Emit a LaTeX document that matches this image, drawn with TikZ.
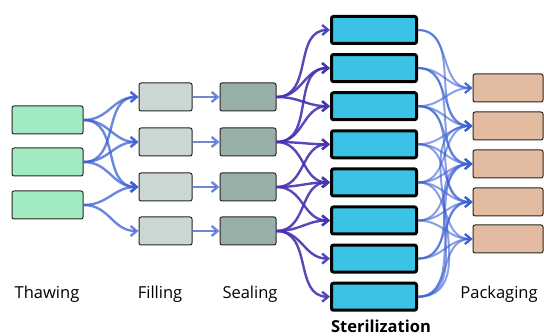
\documentclass[tikz,border=0pt]{standalone}
\usepackage{fontspec}
\setmainfont{Open Sans}
\usetikzlibrary{arrows.meta}

\definecolor{thawgreen}{HTML}{A2EBC2}
\definecolor{fillgray}{HTML}{CBD7D5}
\definecolor{sealgray}{HTML}{99AFA9}
\definecolor{sterilcyan}{HTML}{3AC3E6}
\definecolor{packtan}{HTML}{E3BBA0}
\definecolor{flowblue}{HTML}{3B60D2}
\definecolor{flowpurple}{HTML}{4633B0}

\begin{document}
\begin{tikzpicture}[%
    x=1pt, y=-1pt,
    >={Straight Barb[length=6pt,width=10pt]},
    box/.style={draw=black!85, line width=1pt, rounded corners=2pt,
      inner sep=0pt, minimum height=28pt},
    thaw/.style={box, fill=thawgreen, minimum width=71pt},
    filler/.style={box, fill=fillgray, minimum width=53pt},
    sealer/.style={box, fill=sealgray, minimum width=56pt},
    steril/.style={box, fill=sterilcyan, draw=black, line width=3pt,
      minimum width=85pt, minimum height=27pt},
    pack/.style={box, fill=packtan, minimum width=70pt},
    flow/.style={->, draw=flowblue, line width=2.4pt, opacity=.75,
      out=0, in=180, looseness=1.1},
    heavyflow/.style={flow, draw=flowpurple, opacity=.9},
    lightflow/.style={flow, line width=2pt, opacity=.6},
    lbl/.style={font=\fontsize{16.5}{19}\selectfont},
  ]
    \useasboundingbox (0,0) rectangle (544,336);

    % thawing
    \node[thaw] (t1) at (47.5,120) {};
    \node[thaw] (t2) at (47.5,162) {};
    \node[thaw] (t3) at (47.5,205) {};

    % filling and sealing
    \node[filler] (f1) at (165.5,97)  {};
    \node[filler] (f2) at (165.5,142) {};
    \node[filler] (f3) at (165.5,187) {};
    \node[filler] (f4) at (165.5,231) {};
    \node[sealer] (s1) at (248,97)  {};
    \node[sealer] (s2) at (248,142) {};
    \node[sealer] (s3) at (248,187) {};
    \node[sealer] (s4) at (248,231) {};

    % sterilization
    \node[steril] (z1) at (374,30)    {};
    \node[steril] (z2) at (374,68.1)  {};
    \node[steril] (z3) at (374,106.2) {};
    \node[steril] (z4) at (374,144.3) {};
    \node[steril] (z5) at (374,182.4) {};
    \node[steril] (z6) at (374,220.5) {};
    \node[steril] (z7) at (374,258.6) {};
    \node[steril] (z8) at (374,296.7) {};

    % packaging
    \node[pack] (p1) at (508,88)  {};
    \node[pack] (p2) at (508,126) {};
    \node[pack] (p3) at (508,164) {};
    \node[pack] (p4) at (508,202) {};
    \node[pack] (p5) at (508,239) {};

    \path[flow]
    (t1) edge (f1)
    (t1) edge (f2)
    (t1) edge (f3)
    (t2) edge (f1)
    (t2) edge (f2)
    (t2) edge (f3)
    (t3) edge (f3)
    (t3) edge (f4)
    (f1) edge (s1)
    (f2) edge (s2)
    (f3) edge (s3)
    (f4) edge (s4)
    ;

    \path[heavyflow]
    (s1) edge (z1)
    (s1) edge (z2)
    (s1) edge (z3)
    (s2) edge (z2)
    (s2) edge (z3)
    (s2) edge (z4)
    (s2) edge (z5)
    (s3) edge (z4)
    (s3) edge (z5)
    (s3) edge (z6)
    (s4) edge (z5)
    (s4) edge (z6)
    (s4) edge (z7)
    (s4) edge (z8)
    ;

    \path[lightflow]
    (z1) edge (p1)
    (z1) edge (p2)
    (z2) edge (p1)
    (z2) edge (p2)
    (z2) edge (p3)
    (z3) edge (p1)
    (z3) edge (p2)
    (z3) edge (p3)
    (z3) edge (p4)
    (z4) edge (p2)
    (z4) edge (p3)
    (z4) edge (p4)
    (z5) edge (p2)
    (z5) edge (p3)
    (z5) edge (p4)
    (z5) edge (p5)
    (z6) edge (p3)
    (z6) edge (p4)
    (z6) edge (p5)
    (z7) edge (p3)
    (z7) edge (p4)
    (z7) edge (p5)
    (z8) edge (p2)
    (z8) edge (p3)
    (z8) edge (p4)
    (z8) edge (p5)
    ;

    % stage names
    \node[lbl] (thawing)   at (47,294)  {Thawing};
    \node[lbl] (filling)   at (160,294) {Filling};
    \node[lbl] (sealing)   at (250,294) {Sealing};
    \node[lbl] (packaging) at (499,294) {Packaging};
    \node[lbl, font=\fontsize{16.5}{19}\selectfont\bfseries] (sterilization)
      at (381,326) {Sterilization};
\end{tikzpicture}
\end{document}
